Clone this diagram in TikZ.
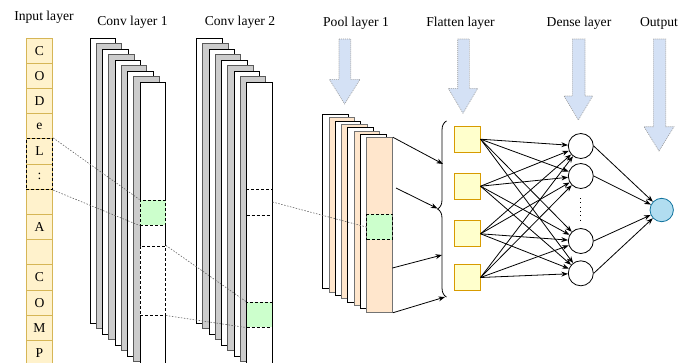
\documentclass[tikz,border=0pt]{standalone}
\usepackage{fontspec}
\setmainfont{Liberation Serif}
\usetikzlibrary{arrows.meta,decorations.pathreplacing,fit}
\definecolor{cellfill}{HTML}{FFF2CC}
\definecolor{celldraw}{HTML}{D6B656}
\definecolor{peach}{HTML}{FFE6CC}
\definecolor{mint}{HTML}{CCFFCC}
\definecolor{flatfill}{HTML}{FFFFCC}
\definecolor{flatdraw}{HTML}{D79B00}
\definecolor{outfill}{HTML}{B1DDF0}
\definecolor{outdraw}{HTML}{10739E}
\definecolor{bigfill}{HTML}{D4E1F5}
\tikzset{
	cell/.style={draw=celldraw,fill=cellfill,line width=.8pt,minimum width=25.5pt,minimum height=25.2pt,inner sep=0pt},
	window/.style={draw,line width=1pt,dash pattern=on 3pt off 2pt,inner sep=0pt},
	whitesheet/.style={draw=black,fill=white,line width=1pt},
	graysheet/.style={draw=black!65,fill=black!20,line width=1pt},
	peachsheet/.style={draw=black!55,fill=peach,line width=1pt},
	hit/.style={window,fill=mint,minimum width=25.5pt,minimum height=25pt},
	miss/.style={window,fill=white,minimum width=25.5pt},
	link/.style={draw=black!60,line width=.6pt,dash pattern=on 1.5pt off 1.5pt},
	flat/.style={draw=flatdraw,fill=flatfill,line width=1pt,minimum size=25.7pt,inner sep=0pt},
	neuron/.style={circle,draw,fill=white,line width=.8pt,minimum size=25pt,inner sep=0pt},
	bigarrow/.style={fill=bigfill,draw=black!40,line width=.6pt,dash pattern=on 1pt off 1pt},
}
\begin{document}
\begin{tikzpicture}[x=1pt,y=-1pt,>=Stealth,font=\fontsize{13.6}{16}\selectfont]
	\useasboundingbox (0,0) rectangle (691,362);
	\node (lin) at (44,17.5) {Input layer};
	\node (lc1) at (132.5,22.5) {Conv layer 1};
	\node (lc2) at (240,22.5) {Conv layer 2};
	\node (lpl) at (356,23) {Pool layer 1};
	\node (lfl) at (460.5,23) {Flatten layer};
	\node (lde) at (579,23) {Dense layer};
	\node (lou) at (659,23) {Output};
	\foreach \xa/\xb/\ya/\xc/\xd/\yb in {339/350.7/79.3/329.3/360/104,457.7/469.3/88.3/448.3/477.7/113.3,572.3/585/96/564/592.7/120,653.3/665.7/126.7/644/674/151}
		\draw[bigarrow] (\xa,39)--(\xb,39)--(\xb,\ya)--(\xd,\ya)--({(\xc+\xd)/2},\yb)--(\xc,\ya)--(\xa,\ya)--cycle;
	\foreach \t [count=\i from 0] in {C,O,D,e,L,:,{},A,{},C,O,M,P}
		\node[cell] (c\i) at (39.5,{50.6+25.2*\i}) {\t};
	\node[window,fit=(c4)(c5)] (w0) {};
	\foreach \i in {0,...,8}{
		\ifodd\i \def\st{graysheet}\else\def\st{whitesheet}\fi
		\draw[\st] ({90+6.25*\i},{38+5.5*\i}) rectangle ++(25.5,285);
		\draw[\st] ({196.5+6.25*\i},{38+5.5*\i}) rectangle ++(25.5,285);
	}
	\foreach \i in {0,...,6}{
		\ifodd\i \def\st{peachsheet}\else\def\st{whitesheet}\fi
		\draw[\st] ({322.7+6.3*\i},{114.3+3.35*\i}) rectangle ++(25.6,174.5);
	}
	\node[peachsheet,minimum width=25.6pt,minimum height=174.5pt,inner sep=0pt] (p) at (379.6,225) {};
	\node[hit] (g1) at (152.75,212.5) {};
	\node[miss,minimum height=69pt] (h1) at (152.75,280.5) {};
	\node[miss,minimum height=26pt] (h2) at (259.25,202) {};
	\node[hit] (g2) at (259.25,314.5) {};
	\node[hit,minimum width=25.6pt,minimum height=25.5pt] (g3) at (379.6,227) {};
	\draw[link] (w0.north east) -- (g1.north west);
	\draw[link] (w0.south east) -- (g1.south west);
	\draw[link] (h1.north east) -- (g2.north west);
	\draw[link] (h1.south east) -- (g2.south west);
	\draw[link] (h2.east) -- (g3.west);
	\draw[line width=.8pt,decorate,decoration={brace,amplitude=9pt}] (446.5,297) -- (446.5,121);
	\coordinate (a2) at (396,188);
	\coordinate (a3) at (392.4,268);
	\coordinate (b1) at (443,164);
	\coordinate (b2) at (437.5,208.5);
	\coordinate (b3) at (442,255);
	\coordinate (b4) at (445,297);
	\draw[->,line width=.8pt] (p.north east) -- (b1);
	\draw[->,line width=.8pt] (a2) -- (b2);
	\draw[->,line width=.8pt] (a3) -- (b3);
	\draw[->,line width=.8pt] (p.south east) -- (b4);
	\node[flat] (f1) at (467.2,139.2) {};
	\node[flat] (f2) at (467.2,186.2) {};
	\node[flat] (f3) at (467.2,233.8) {};
	\node[flat] (f4) at (467.2,277.5) {};
	\node[neuron] (d1) at (580.8,146) {};
	\node[neuron] (d2) at (580.8,176) {};
	\node[neuron] (d3) at (580.8,241) {};
	\node[neuron] (d4) at (580.8,273.3) {};
	\coordinate (v1) at (580.8,198);
	\coordinate (v2) at (580.8,220);
	\draw[line width=1pt,dash pattern=on .8pt off 3.5pt] (v1) -- (v2);
	\node[circle,draw=outdraw,fill=outfill,line width=.8pt,minimum size=23.4pt,inner sep=0pt] (out) at (661.7,210) {};
	\foreach \i in {1,...,4}
		\foreach \j in {1,...,4}
			\draw[->,line width=.8pt] (f\i.east) -- (d\j);
	\foreach \j in {1,...,4}
		\draw[->,line width=.8pt] (d\j.east) -- (out);
\end{tikzpicture}
\end{document}
